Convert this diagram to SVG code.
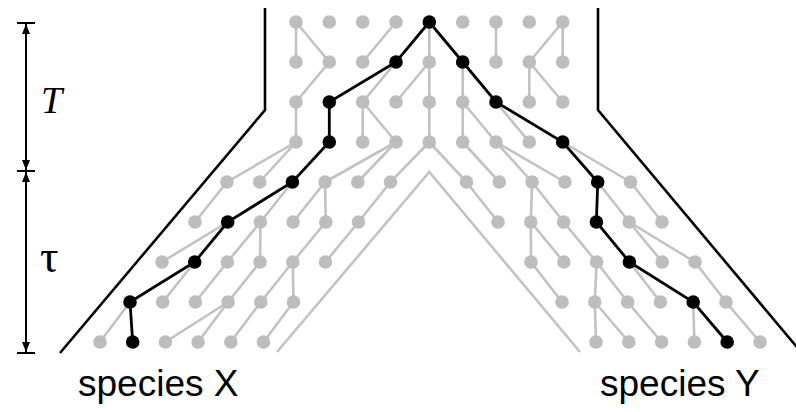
<svg xmlns="http://www.w3.org/2000/svg" width="796" height="412" viewBox="0 0 796 412">
<style>
.g{stroke:#c2c2c2;stroke-width:2.6;fill:none;stroke-linecap:round}
.b{stroke:#000;stroke-width:2.8;fill:none;stroke-linecap:round}
.wall{stroke:#000;stroke-width:2.6;fill:none}
.iw{stroke:#c2c2c2;stroke-width:2.6;fill:none}
.gn{fill:#bdbdbd}
.bn{fill:#000}
.bar{stroke:#000;stroke-width:2;fill:none}
.lab{font-family:"Liberation Sans",Arial,sans-serif;font-size:37px;fill:#000}
.sym{font-family:"Liberation Serif","Times New Roman",serif;fill:#000}
</style>
<defs>
<marker id="ah" viewBox="0 0 10 8" refX="10" refY="4" markerWidth="10" markerHeight="8" markerUnits="userSpaceOnUse" orient="auto-start-reverse">
<path d="M0,0 L10,4 L0,8 z" fill="#000"/>
</marker>
<circle id="n" r="6.8"/>
</defs>
<rect width="796" height="412" fill="#fff"/>
<g id="scale">
<line class="bar" x1="17" y1="23" x2="35" y2="23"/>
<line class="bar" x1="17" y1="171" x2="35" y2="171"/>
<line class="bar" x1="17" y1="353" x2="35" y2="353"/>
<line class="bar" x1="26" y1="24" x2="26" y2="170" marker-start="url(#ah)" marker-end="url(#ah)"/>
<line class="bar" x1="26" y1="172" x2="26" y2="352" marker-start="url(#ah)" marker-end="url(#ah)"/>
<text class="sym" x="41" y="113" font-size="38" font-style="italic">T</text>
<text class="sym" x="40" y="272" font-size="46">τ</text>
</g>
<g id="walls">
<polyline class="wall" points="265,8 265,110 60,353"/>
<polyline class="wall" points="598,8 598,110 801,352"/>
<polyline class="iw" points="277,352 429.3,172 580,352"/>
</g>
<g id="connectors">
<g id="gray-edges">
<line class="g" x1="296" y1="22" x2="296" y2="62"/>
<line class="g" x1="296" y1="22" x2="329.3" y2="62"/>
<line class="g" x1="396" y1="22" x2="362.7" y2="62"/>
<line class="g" x1="429.3" y1="22" x2="429.3" y2="62"/>
<line class="g" x1="496" y1="22" x2="496" y2="62"/>
<line class="g" x1="562.7" y1="22" x2="529.3" y2="62"/>
<line class="g" x1="562.7" y1="22" x2="562.7" y2="62"/>
<line class="g" x1="329.3" y1="62" x2="296" y2="102"/>
<line class="g" x1="396" y1="62" x2="362.7" y2="102"/>
<line class="g" x1="429.3" y1="62" x2="396" y2="102"/>
<line class="g" x1="429.3" y1="62" x2="429.3" y2="102"/>
<line class="g" x1="462.7" y1="62" x2="462.7" y2="102"/>
<line class="g" x1="529.3" y1="62" x2="529.3" y2="102"/>
<line class="g" x1="529.3" y1="62" x2="562.7" y2="102"/>
<line class="g" x1="296" y1="102" x2="296" y2="142"/>
<line class="g" x1="362.7" y1="102" x2="362.7" y2="142"/>
<line class="g" x1="362.7" y1="102" x2="396" y2="142"/>
<line class="g" x1="429.3" y1="102" x2="429.3" y2="142"/>
<line class="g" x1="462.7" y1="102" x2="462.7" y2="142"/>
<line class="g" x1="462.7" y1="102" x2="496" y2="142"/>
<line class="g" x1="496" y1="102" x2="529.3" y2="142"/>
<line class="g" x1="296" y1="142" x2="227" y2="182"/>
<line class="g" x1="296" y1="142" x2="259.7" y2="182"/>
<line class="g" x1="396" y1="142" x2="325.1" y2="182"/>
<line class="g" x1="396" y1="142" x2="357.8" y2="182"/>
<line class="g" x1="429.3" y1="142" x2="390.5" y2="182"/>
<line class="g" x1="429.3" y1="142" x2="466.5" y2="182"/>
<line class="g" x1="462.7" y1="142" x2="499.3" y2="182"/>
<line class="g" x1="496" y1="142" x2="532.1" y2="182"/>
<line class="g" x1="496" y1="142" x2="564.9" y2="182"/>
<line class="g" x1="562.7" y1="142" x2="630.5" y2="182"/>
<line class="g" x1="227" y1="182" x2="195" y2="222"/>
<line class="g" x1="292.4" y1="182" x2="260.4" y2="222"/>
<line class="g" x1="325.1" y1="182" x2="293.1" y2="222"/>
<line class="g" x1="325.1" y1="182" x2="325.8" y2="222"/>
<line class="g" x1="390.5" y1="182" x2="358.5" y2="222"/>
<line class="g" x1="466.5" y1="182" x2="498" y2="222"/>
<line class="g" x1="532.1" y1="182" x2="530.8" y2="222"/>
<line class="g" x1="532.1" y1="182" x2="563.6" y2="222"/>
<line class="g" x1="597.7" y1="182" x2="629.2" y2="222"/>
<line class="g" x1="630.5" y1="182" x2="662" y2="222"/>
<line class="g" x1="227.7" y1="222" x2="162" y2="262"/>
<line class="g" x1="260.4" y1="222" x2="227.4" y2="262"/>
<line class="g" x1="260.4" y1="222" x2="260.1" y2="262"/>
<line class="g" x1="325.8" y1="222" x2="292.8" y2="262"/>
<line class="g" x1="358.5" y1="222" x2="325.5" y2="262"/>
<line class="g" x1="530.8" y1="222" x2="531" y2="262"/>
<line class="g" x1="530.8" y1="222" x2="563.8" y2="262"/>
<line class="g" x1="563.6" y1="222" x2="596.6" y2="262"/>
<line class="g" x1="629.2" y1="222" x2="662.2" y2="262"/>
<line class="g" x1="629.2" y1="222" x2="695" y2="262"/>
<line class="g" x1="194.7" y1="262" x2="162.7" y2="302"/>
<line class="g" x1="227.4" y1="262" x2="195.4" y2="302"/>
<line class="g" x1="260.1" y1="262" x2="228.1" y2="302"/>
<line class="g" x1="292.8" y1="262" x2="260.8" y2="302"/>
<line class="g" x1="292.8" y1="262" x2="293.5" y2="302"/>
<line class="g" x1="531" y1="262" x2="562" y2="302"/>
<line class="g" x1="596.6" y1="262" x2="594.8" y2="302"/>
<line class="g" x1="596.6" y1="262" x2="627.6" y2="302"/>
<line class="g" x1="629.4" y1="262" x2="660.4" y2="302"/>
<line class="g" x1="695" y1="262" x2="726" y2="302"/>
<line class="g" x1="130" y1="302" x2="100" y2="342"/>
<line class="g" x1="228.1" y1="302" x2="165.4" y2="342"/>
<line class="g" x1="228.1" y1="302" x2="198.1" y2="342"/>
<line class="g" x1="260.8" y1="302" x2="230.8" y2="342"/>
<line class="g" x1="293.5" y1="302" x2="263.5" y2="342"/>
<line class="g" x1="594.8" y1="302" x2="596" y2="342"/>
<line class="g" x1="594.8" y1="302" x2="628.8" y2="342"/>
<line class="g" x1="627.6" y1="302" x2="661.6" y2="342"/>
<line class="g" x1="693.2" y1="302" x2="694.4" y2="342"/>
<line class="g" x1="726" y1="302" x2="760" y2="342"/>
</g>
<g id="black-path">
<polyline class="b" points="132.7,342 130,302 194.7,262 227.7,222 292.4,182 329.3,142 329.3,102 396,62 429.3,22 462.7,62 496,102 562.7,142 597.7,182 596.4,222 629.4,262 693.2,302 727.2,342"/>
</g>
</g>
<g id="nodes" class="gn">
<g id="r0c0"><use href="#n" x="296" y="22"/></g>
<g id="r0c1"><use href="#n" x="329.3" y="22"/></g>
<g id="r0c2"><use href="#n" x="362.7" y="22"/></g>
<g id="r0c3"><use href="#n" x="396" y="22"/></g>
<g id="r0c4" class="bn"><use href="#n" x="429.3" y="22"/></g>
<g id="r0c5"><use href="#n" x="462.7" y="22"/></g>
<g id="r0c6"><use href="#n" x="496" y="22"/></g>
<g id="r0c7"><use href="#n" x="529.3" y="22"/></g>
<g id="r0c8"><use href="#n" x="562.7" y="22"/></g>
<g id="r1c0"><use href="#n" x="296" y="62"/></g>
<g id="r1c1"><use href="#n" x="329.3" y="62"/></g>
<g id="r1c2"><use href="#n" x="362.7" y="62"/></g>
<g id="r1c3" class="bn"><use href="#n" x="396" y="62"/></g>
<g id="r1c4"><use href="#n" x="429.3" y="62"/></g>
<g id="r1c5" class="bn"><use href="#n" x="462.7" y="62"/></g>
<g id="r1c6"><use href="#n" x="496" y="62"/></g>
<g id="r1c7"><use href="#n" x="529.3" y="62"/></g>
<g id="r1c8"><use href="#n" x="562.7" y="62"/></g>
<g id="r2c0"><use href="#n" x="296" y="102"/></g>
<g id="r2c1" class="bn"><use href="#n" x="329.3" y="102"/></g>
<g id="r2c2"><use href="#n" x="362.7" y="102"/></g>
<g id="r2c3"><use href="#n" x="396" y="102"/></g>
<g id="r2c4"><use href="#n" x="429.3" y="102"/></g>
<g id="r2c5"><use href="#n" x="462.7" y="102"/></g>
<g id="r2c6" class="bn"><use href="#n" x="496" y="102"/></g>
<g id="r2c7"><use href="#n" x="529.3" y="102"/></g>
<g id="r2c8"><use href="#n" x="562.7" y="102"/></g>
<g id="r3c0"><use href="#n" x="296" y="142"/></g>
<g id="r3c1" class="bn"><use href="#n" x="329.3" y="142"/></g>
<g id="r3c2"><use href="#n" x="362.7" y="142"/></g>
<g id="r3c3"><use href="#n" x="396" y="142"/></g>
<g id="r3c4"><use href="#n" x="429.3" y="142"/></g>
<g id="r3c5"><use href="#n" x="462.7" y="142"/></g>
<g id="r3c6"><use href="#n" x="496" y="142"/></g>
<g id="r3c7"><use href="#n" x="529.3" y="142"/></g>
<g id="r3c8" class="bn"><use href="#n" x="562.7" y="142"/></g>
<g id="L4k0"><use href="#n" x="227" y="182"/></g>
<g id="L4k1"><use href="#n" x="259.7" y="182"/></g>
<g id="L4k2" class="bn"><use href="#n" x="292.4" y="182"/></g>
<g id="L4k3"><use href="#n" x="325.1" y="182"/></g>
<g id="L4k4"><use href="#n" x="357.8" y="182"/></g>
<g id="L4k5"><use href="#n" x="390.5" y="182"/></g>
<g id="L5k0"><use href="#n" x="195" y="222"/></g>
<g id="L5k1" class="bn"><use href="#n" x="227.7" y="222"/></g>
<g id="L5k2"><use href="#n" x="260.4" y="222"/></g>
<g id="L5k3"><use href="#n" x="293.1" y="222"/></g>
<g id="L5k4"><use href="#n" x="325.8" y="222"/></g>
<g id="L5k5"><use href="#n" x="358.5" y="222"/></g>
<g id="L6k0"><use href="#n" x="162" y="262"/></g>
<g id="L6k1" class="bn"><use href="#n" x="194.7" y="262"/></g>
<g id="L6k2"><use href="#n" x="227.4" y="262"/></g>
<g id="L6k3"><use href="#n" x="260.1" y="262"/></g>
<g id="L6k4"><use href="#n" x="292.8" y="262"/></g>
<g id="L6k5"><use href="#n" x="325.5" y="262"/></g>
<g id="L7k0" class="bn"><use href="#n" x="130" y="302"/></g>
<g id="L7k1"><use href="#n" x="162.7" y="302"/></g>
<g id="L7k2"><use href="#n" x="195.4" y="302"/></g>
<g id="L7k3"><use href="#n" x="228.1" y="302"/></g>
<g id="L7k4"><use href="#n" x="260.8" y="302"/></g>
<g id="L7k5"><use href="#n" x="293.5" y="302"/></g>
<g id="L8k0"><use href="#n" x="100" y="342"/></g>
<g id="L8k1" class="bn"><use href="#n" x="132.7" y="342"/></g>
<g id="L8k2"><use href="#n" x="165.4" y="342"/></g>
<g id="L8k3"><use href="#n" x="198.1" y="342"/></g>
<g id="L8k4"><use href="#n" x="230.8" y="342"/></g>
<g id="L8k5"><use href="#n" x="263.5" y="342"/></g>
<g id="R4k0"><use href="#n" x="466.5" y="182"/></g>
<g id="R4k1"><use href="#n" x="499.3" y="182"/></g>
<g id="R4k2"><use href="#n" x="532.1" y="182"/></g>
<g id="R4k3"><use href="#n" x="564.9" y="182"/></g>
<g id="R4k4" class="bn"><use href="#n" x="597.7" y="182"/></g>
<g id="R4k5"><use href="#n" x="630.5" y="182"/></g>
<g id="R5k0"><use href="#n" x="498" y="222"/></g>
<g id="R5k1"><use href="#n" x="530.8" y="222"/></g>
<g id="R5k2"><use href="#n" x="563.6" y="222"/></g>
<g id="R5k3" class="bn"><use href="#n" x="596.4" y="222"/></g>
<g id="R5k4"><use href="#n" x="629.2" y="222"/></g>
<g id="R5k5"><use href="#n" x="662" y="222"/></g>
<g id="R6k0"><use href="#n" x="531" y="262"/></g>
<g id="R6k1"><use href="#n" x="563.8" y="262"/></g>
<g id="R6k2"><use href="#n" x="596.6" y="262"/></g>
<g id="R6k3" class="bn"><use href="#n" x="629.4" y="262"/></g>
<g id="R6k4"><use href="#n" x="662.2" y="262"/></g>
<g id="R6k5"><use href="#n" x="695" y="262"/></g>
<g id="R7k0"><use href="#n" x="562" y="302"/></g>
<g id="R7k1"><use href="#n" x="594.8" y="302"/></g>
<g id="R7k2"><use href="#n" x="627.6" y="302"/></g>
<g id="R7k3"><use href="#n" x="660.4" y="302"/></g>
<g id="R7k4" class="bn"><use href="#n" x="693.2" y="302"/></g>
<g id="R7k5"><use href="#n" x="726" y="302"/></g>
<g id="R8k0"><use href="#n" x="596" y="342"/></g>
<g id="R8k1"><use href="#n" x="628.8" y="342"/></g>
<g id="R8k2"><use href="#n" x="661.6" y="342"/></g>
<g id="R8k3"><use href="#n" x="694.4" y="342"/></g>
<g id="R8k4" class="bn"><use href="#n" x="727.2" y="342"/></g>
<g id="R8k5"><use href="#n" x="760" y="342"/></g>
</g>
<g id="labels">
<text class="lab" x="78" y="396">species X</text>
<text class="lab" x="600" y="396">species Y</text>
</g>
</svg>
